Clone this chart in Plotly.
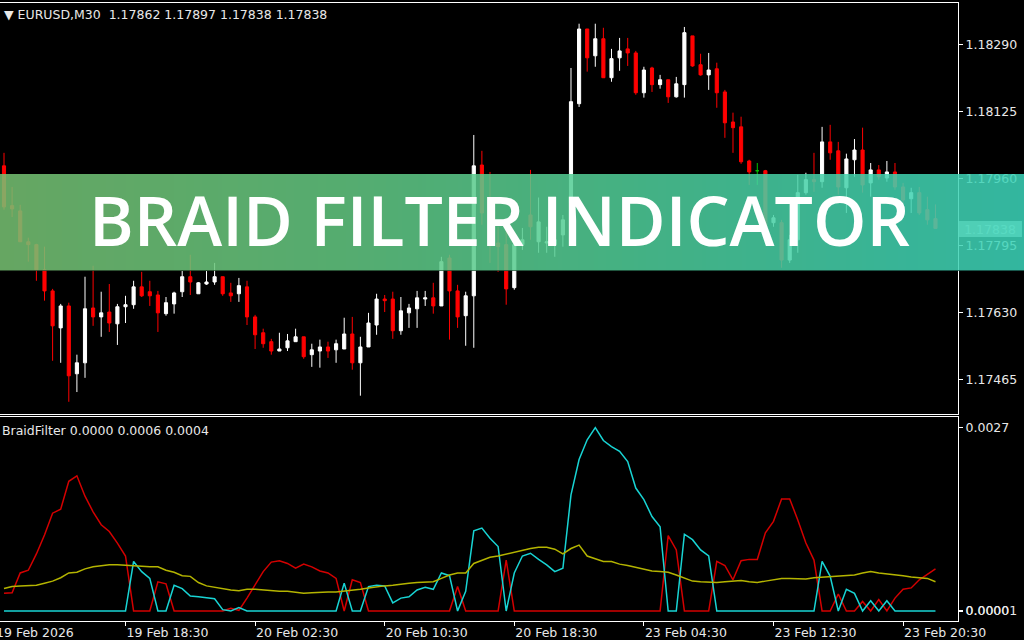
import base64
import struct
import zlib

import plotly.graph_objects as go

# ---- data ----
symbol = "EURUSD,M30"
indicator_name = "BraidFilter"
banner_title = "BRAID FILTER INDICATOR"

opens = [
    1.17992, 1.17894, 1.17881, 1.17805, 1.17798, 1.17736, 1.17684, 1.17593, 1.17647, 1.17480,
    1.17507, 1.17642, 1.17620, 1.17632, 1.17603, 1.17645, 1.17650, 1.17694, 1.17682, 1.17674,
    1.17628, 1.17652, 1.17682, 1.17719, 1.17677, 1.17701, 1.17706, 1.17719, 1.17679, 1.17677,
    1.17694, 1.17620, 1.17581, 1.17559, 1.17536, 1.17544, 1.17559, 1.17571, 1.17527, 1.17536,
    1.17546, 1.17539, 1.17541, 1.17578, 1.17507, 1.17546, 1.17600, 1.17664, 1.17664, 1.17586,
    1.17630, 1.17640, 1.17664, 1.17667, 1.17647, 1.17765, 1.17684, 1.17623, 1.17672, 1.17994,
    1.17876, 1.17802, 1.17798, 1.17692, 1.17798, 1.17871, 1.17805, 1.17802, 1.17798, 1.17822,
    1.17900, 1.18145, 1.18329, 1.18263, 1.18305, 1.18209, 1.18258, 1.18280, 1.18270, 1.18172,
    1.18233, 1.18192, 1.18204, 1.18162, 1.18192, 1.18312, 1.18241, 1.18216, 1.18231, 1.18174,
    1.18100, 1.18088, 1.18004, 1.17980, 1.17980, 1.17852, 1.17852, 1.17760, 1.17810, 1.17926,
    1.17958, 1.17953, 1.18051, 1.18029, 1.17938, 1.18007, 1.18031, 1.17950, 1.17982, 1.17962,
    1.17977, 1.17940, 1.17911, 1.17926, 1.17884, 1.17862,
]
highs = [
    1.18024, 1.17940, 1.17896, 1.17815, 1.17800, 1.17793, 1.17689, 1.17652, 1.17655, 1.17527,
    1.17719, 1.17746, 1.17682, 1.17701, 1.17652, 1.17672, 1.17709, 1.17731, 1.17709, 1.17684,
    1.17669, 1.17682, 1.17733, 1.17773, 1.17706, 1.17733, 1.17753, 1.17719, 1.17704, 1.17716,
    1.17709, 1.17625, 1.17591, 1.17566, 1.17581, 1.17578, 1.17591, 1.17571, 1.17554, 1.17564,
    1.17559, 1.17564, 1.17618, 1.17620, 1.17571, 1.17630, 1.17677, 1.17674, 1.17682, 1.17669,
    1.17652, 1.17684, 1.17684, 1.17704, 1.17768, 1.17773, 1.17699, 1.17682, 1.18068, 1.18029,
    1.17977, 1.17842, 1.17834, 1.17817, 1.17839, 1.17982, 1.17914, 1.17842, 1.17864, 1.17871,
    1.18233, 1.18342, 1.18329, 1.18342, 1.18332, 1.18280, 1.18307, 1.18307, 1.18275, 1.18236,
    1.18236, 1.18216, 1.18204, 1.18211, 1.18334, 1.18312, 1.18268, 1.18270, 1.18246, 1.18179,
    1.18123, 1.18113, 1.18007, 1.17999, 1.17982, 1.17871, 1.17859, 1.17822, 1.17970, 1.17975,
    1.18024, 1.18088, 1.18093, 1.18051, 1.18022, 1.18058, 1.18086, 1.17999, 1.17994, 1.18004,
    1.17999, 1.17950, 1.17938, 1.17940, 1.17916, 1.17897,
]
lows = [
    1.17884, 1.17866, 1.17805, 1.17756, 1.17709, 1.17660, 1.17512, 1.17507, 1.17411, 1.17435,
    1.17470, 1.17598, 1.17571, 1.17583, 1.17551, 1.17605, 1.17640, 1.17669, 1.17647, 1.17583,
    1.17623, 1.17628, 1.17669, 1.17674, 1.17677, 1.17699, 1.17699, 1.17672, 1.17657, 1.17657,
    1.17600, 1.17541, 1.17544, 1.17527, 1.17536, 1.17536, 1.17559, 1.17517, 1.17497, 1.17495,
    1.17519, 1.17507, 1.17541, 1.17490, 1.17426, 1.17546, 1.17576, 1.17632, 1.17566, 1.17576,
    1.17593, 1.17593, 1.17647, 1.17628, 1.17647, 1.17564, 1.17593, 1.17549, 1.17544, 1.17847,
    1.17753, 1.17731, 1.17650, 1.17687, 1.17785, 1.17810, 1.17778, 1.17778, 1.17768, 1.17793,
    1.17890, 1.18137, 1.18224, 1.18236, 1.18209, 1.18199, 1.18226, 1.18238, 1.18167, 1.18160,
    1.18174, 1.18182, 1.18147, 1.18160, 1.18160, 1.18236, 1.18214, 1.18179, 1.18135, 1.18061,
    1.18024, 1.17997, 1.17945, 1.17945, 1.17834, 1.17842, 1.17741, 1.17753, 1.17778, 1.17921,
    1.17928, 1.17938, 1.18007, 1.17921, 1.17876, 1.17965, 1.17926, 1.17916, 1.17958, 1.17953,
    1.17933, 1.17884, 1.17876, 1.17871, 1.17847, 1.17838,
]
closes = [
    1.17891, 1.17886, 1.17805, 1.17798, 1.17736, 1.17684, 1.17598, 1.17647, 1.17475, 1.17507,
    1.17640, 1.17620, 1.17630, 1.17605, 1.17645, 1.17650, 1.17694, 1.17672, 1.17672, 1.17630,
    1.17655, 1.17679, 1.17719, 1.17706, 1.17704, 1.17706, 1.17719, 1.17677, 1.17672, 1.17697,
    1.17620, 1.17576, 1.17554, 1.17536, 1.17541, 1.17561, 1.17571, 1.17522, 1.17539, 1.17546,
    1.17536, 1.17554, 1.17578, 1.17507, 1.17546, 1.17605, 1.17664, 1.17660, 1.17586, 1.17635,
    1.17642, 1.17667, 1.17667, 1.17647, 1.17756, 1.17684, 1.17620, 1.17672, 1.17992, 1.17876,
    1.17802, 1.17793, 1.17689, 1.17798, 1.17810, 1.17842, 1.17854, 1.17805, 1.17810, 1.17859,
    1.18150, 1.18329, 1.18258, 1.18305, 1.18209, 1.18256, 1.18275, 1.18270, 1.18172, 1.18228,
    1.18192, 1.18204, 1.18162, 1.18194, 1.18320, 1.18238, 1.18216, 1.18228, 1.18172, 1.18098,
    1.18086, 1.18002, 1.17977, 1.17980, 1.17842, 1.17864, 1.17760, 1.17810, 1.17926, 1.17958,
    1.17953, 1.18051, 1.18024, 1.17940, 1.18009, 1.18031, 1.17945, 1.17982, 1.17965, 1.17977,
    1.17940, 1.17908, 1.17926, 1.17876, 1.17859, 1.17838,
]

# BraidFilter buffers (red = down, cyan = up, yellow = filter)
braid_down = [
    0.00026, 0.00027, 0.00056, 0.00060, 0.00084, 0.00112, 0.00144, 0.00150, 0.00191, 0.00199,
    0.00169, 0.00146, 0.00127, 0.00117, 0.00100, 0.00081, 0, 0, 0, 0.00043,
    0.00040, 0, 0, 0, 0, 0, 0, 0, 0.00004, 0.00001,
    0.00019, 0.00038, 0.00058, 0.00072, 0.00074, 0.00070, 0.00063, 0.00069, 0.00065, 0.00059,
    0.00056, 0.00048, 0, 0.00046, 0.00042, 0, 0, 0, 0, 0,
    0, 0, 0, 0, 0, 0, 0.00036, 0, 0, 0,
    0, 0, 0.00075, 0, 0, 0, 0, 0, 0, 0,
    0, 0, 0, 0, 0, 0, 0, 0, 0, 0,
    0, 0, 0.00111, 0.00090, 0, 0, 0, 0, 0.00073, 0.00067,
    0.00046, 0.00074, 0.00076, 0.00076, 0.00115, 0.00132, 0.00165, 0.00165, 0.00134, 0.00100,
    0.00075, 0, 0, 0.00025, 0, 0, 0.00014, 0, 0.00017, 0,
    0.00019, 0.00032, 0.00034, 0.00046, 0.00054, 0.00062,
]
braid_up = [
    0, 0, 0, 0, 0, 0, 0, 0, 0, 0,
    0, 0, 0, 0, 0, 0, 0.00073, 0.00058, 0.00048, 0,
    0, 0.00038, 0.00033, 0.00022, 0.00021, 0.00019, 0.00018, 0.00002, 0, 0.00005,
    0, 0, 0, 0, 0, 0, 0, 0, 0, 0,
    0, 0, 0.00041, 0, 0, 0.00036, 0.00038, 0.00037, 0.00012, 0.00019,
    0.00021, 0.00031, 0.00035, 0.00032, 0.00056, 0.00052, 0, 0.00029, 0.00118, 0.00122,
    0.00107, 0.00095, 0, 0.00056, 0.00081, 0.00085, 0.00076, 0.00068, 0.00058, 0.00063,
    0.00171, 0.00223, 0.00252, 0.00270, 0.00251, 0.00242, 0.00235, 0.00220, 0.00181, 0.00164,
    0.00139, 0.00124, 0, 0, 0.00113, 0.00105, 0.00090, 0.00081, 0, 0,
    0, 0, 0, 0, 0, 0, 0, 0, 0, 0,
    0, 0.00073, 0.00051, 0, 0.00032, 0.00026, 0, 0.00015, 0, 0.00015,
    0, 0, 0, 0, 0, 0,
]
braid_filter = [
    0.00033, 0.00036, 0.00037, 0.00037, 0.00038, 0.00041, 0.00044, 0.00049, 0.00056, 0.00057,
    0.00062, 0.00065, 0.00067, 0.00068, 0.00068, 0.00067, 0.00067, 0.00066, 0.00065, 0.00065,
    0.00060, 0.00057, 0.00052, 0.00051, 0.00042, 0.00037, 0.00035, 0.00032, 0.00031, 0.00030,
    0.00032, 0.00032, 0.00031, 0.00029, 0.00029, 0.00029, 0.00027, 0.00026, 0.00027, 0.00028,
    0.00028, 0.00028, 0.00029, 0.00030, 0.00032, 0.00034, 0.00036, 0.00037, 0.00038, 0.00040,
    0.00041, 0.00042, 0.00043, 0.00043, 0.00048, 0.00053, 0.00056, 0.00056, 0.00070, 0.00075,
    0.00079, 0.00081, 0.00084, 0.00087, 0.00089, 0.00092, 0.00094, 0.00094, 0.00091, 0.00084,
    0.00092, 0.00097, 0.00081, 0.00077, 0.00073, 0.00073, 0.00069, 0.00067, 0.00064, 0.00061,
    0.00059, 0.00058, 0.00057, 0.00053, 0.00049, 0.00044, 0.00043, 0.00042, 0.00042, 0.00043,
    0.00044, 0.00045, 0.00043, 0.00042, 0.00044, 0.00046, 0.00048, 0.00048, 0.00048, 0.00047,
    0.00049, 0.00050, 0.00051, 0.00051, 0.00053, 0.00053, 0.00056, 0.00058, 0.00056, 0.00055,
    0.00053, 0.00052, 0.00050, 0.00049, 0.00048, 0.00043,
]

price_ticks = [1.17465, 1.17630, 1.17795, 1.17960, 1.18125, 1.18290]
braid_ticks = [0.0027, 0.0, 0.000001]
braid_tick_text = ["0.0027", "0.0000", "0.00001"]
time_tick_bars = [15, 31, 47, 63, 79, 95, 111]
time_tick_labels = ["19 Feb 18:30", "20 Feb 02:30", "20 Feb 10:30", "20 Feb 18:30",
                    "23 Feb 04:30", "23 Feb 12:30", "23 Feb 20:30"]
first_date_label = "19 Feb 2026"


def gradient_png(stops, width=256, height=97):
    """Small horizontal-gradient PNG as a data URI (used for the title banner)."""
    def colour_at(t):
        for (t0, c0), (t1, c1) in zip(stops, stops[1:]):
            if t <= t1:
                f = (t - t0) / (t1 - t0)
                return [round(a + (b - a) * f) for a, b in zip(c0, c1)]
        return list(stops[-1][1])

    row = bytearray([0])
    for i in range(width):
        row += bytes(colour_at(i / (width - 1)))
    edge = bytearray([0])
    for i in range(width):
        edge += bytes([int(v * 0.45) for v in colour_at(i / (width - 1))])
    raw = bytes(row) * (height - 1) + bytes(edge)

    def chunk(tag, data):
        return (struct.pack(">I", len(data)) + tag + data
                + struct.pack(">I", zlib.crc32(tag + data) & 0xFFFFFFFF))

    png = (b"\x89PNG\r\n\x1a\n"
           + chunk(b"IHDR", struct.pack(">IIBBBBB", width, height, 8, 2, 0, 0, 0))
           + chunk(b"IDAT", zlib.compress(raw, 9))
           + chunk(b"IEND", b""))
    return "data:image/png;base64," + base64.b64encode(png).decode()


bars = list(range(len(closes)))
is_doji = [o == c for o, c in zip(opens, closes)]
normal = [i for i in bars if not is_doji[i]]
doji = [i for i in bars if is_doji[i]]

fig = go.Figure()

fig.add_trace(go.Candlestick(
    x=normal,
    open=[opens[i] for i in normal], high=[highs[i] for i in normal],
    low=[lows[i] for i in normal], close=[closes[i] for i in normal],
    increasing=dict(line=dict(color="#ffffff", width=1), fillcolor="#ffffff"),
    decreasing=dict(line=dict(color="#ff0000", width=1), fillcolor="#ff0000"),
    whiskerwidth=0, xaxis="x", yaxis="y", hoverinfo="skip",
))
fig.add_trace(go.Candlestick(
    x=doji,
    open=[opens[i] for i in doji], high=[highs[i] for i in doji],
    low=[lows[i] for i in doji], close=[closes[i] for i in doji],
    increasing=dict(line=dict(color="#00c000", width=1), fillcolor="#00c000"),
    decreasing=dict(line=dict(color="#00c000", width=1), fillcolor="#00c000"),
    whiskerwidth=0, xaxis="x", yaxis="y", hoverinfo="skip",
))

for series, colour in [(braid_down, "#d40000"), (braid_up, "#18d4d4"), (braid_filter, "#b4b400")]:
    fig.add_trace(go.Scatter(
        x=bars, y=series, mode="lines",
        line=dict(color=colour, width=1.5),
        xaxis="x2", yaxis="y2", hoverinfo="skip",
    ))

axis_font = dict(family="DejaVu Sans", size=12.5, color="#e8e8e8")

fig.update_layout(
    width=1024, height=640,
    margin=dict(l=0, r=66, t=3, b=19),
    paper_bgcolor="#000000", plot_bgcolor="#000000",
    showlegend=False,
    boxgap=0.45,
    font=axis_font,
    xaxis=dict(
        domain=[0, 1], range=[-0.494, 117.78], anchor="y",
        showticklabels=False, ticks="", showgrid=False, zeroline=False,
        showline=True, mirror=True, linecolor="#ffffff", linewidth=1,
        rangeslider=dict(visible=False),
    ),
    yaxis=dict(
        domain=[0.335, 1], range=[1.17381, 1.18393], anchor="x", side="right",
        showgrid=False, zeroline=False, showline=True, linecolor="#ffffff", linewidth=1,
        ticks="outside", ticklen=4, tickcolor="#ffffff",
        tickvals=price_ticks, ticktext=[f"{v:.5f}" for v in price_ticks],
        tickfont=axis_font,
    ),
    xaxis2=dict(
        domain=[0, 1], matches="x", anchor="y2",
        showgrid=False, zeroline=False, showline=True, mirror=True,
        linecolor="#ffffff", linewidth=1,
        ticks="outside", ticklen=4, tickcolor="#ffffff",
        tickvals=time_tick_bars, ticktext=time_tick_labels,
        ticklabelposition="outside right", tickfont=axis_font,
        rangeslider=dict(visible=False),
    ),
    yaxis2=dict(
        domain=[0, 0.330], range=[-0.000147, 0.002855], anchor="x2", side="right",
        showgrid=False, zeroline=False, showline=True, linecolor="#ffffff", linewidth=1,
        ticks="outside", ticklen=4, tickcolor="#ffffff",
        tickvals=braid_ticks, ticktext=braid_tick_text, tickfont=axis_font,
    ),
)

# current price label on the price scale (sits under the banner)
fig.add_shape(
    type="rect", xref="paper", yref="paper", layer="below",
    x0=1.0, x1=1.0668, y0=0.6214, y1=0.6472,
    fillcolor="#b4b4b4", line=dict(width=0),
    label=dict(text=f"{closes[-1]:.5f}", font=dict(family="DejaVu Sans", size=12.5, color="#ffffff"),
               textposition="middle center"),
)

# translucent gradient title banner across the whole picture
fig.add_layout_image(
    source=gradient_png([(0.0, (119, 194, 115)), (0.33, (100, 201, 130)),
                         (0.66, (77, 207, 157)), (1.0, (60, 212, 186))]),
    xref="paper", yref="paper", x=0, y=0.7233, sizex=1024 / 958, sizey=0.157,
    xanchor="left", yanchor="top", sizing="stretch", layer="above", opacity=0.86,
)

fig.add_annotation(
    text=banner_title, xref="paper", yref="paper", x=0.5219, y=0.6497,
    xanchor="center", yanchor="middle", showarrow=False,
    font=dict(family="Open Sans", size=68, weight=600, color="#ffffff"),
)

header = f"▼ {symbol}  " + " ".join(f"{v:.5f}" for v in (opens[-1], highs[-1], lows[-1], closes[-1]))
fig.add_annotation(
    text=header, xref="paper", yref="paper", x=0.002, y=0.982,
    xanchor="left", yanchor="middle", showarrow=False, font=axis_font,
)

braid_header = f"{indicator_name} " + " ".join(f"{v:.4f}" for v in (braid_up[-1], braid_down[-1], braid_filter[-1]))
fig.add_annotation(
    text=braid_header, xref="paper", yref="paper", x=0.0, y=0.309,
    xanchor="left", yanchor="middle", showarrow=False, font=axis_font,
)

fig.add_annotation(
    text=first_date_label, xref="paper", yref="paper", x=-6 / 958, y=-0.0194,
    xanchor="left", yanchor="middle", showarrow=False, font=axis_font,
)

# the page template keeps the browser's default 8px body margin; drop it
fig.write_html("out.html", config={"displayModeBar": False},
               post_script="document.body.style.margin = '0';")
